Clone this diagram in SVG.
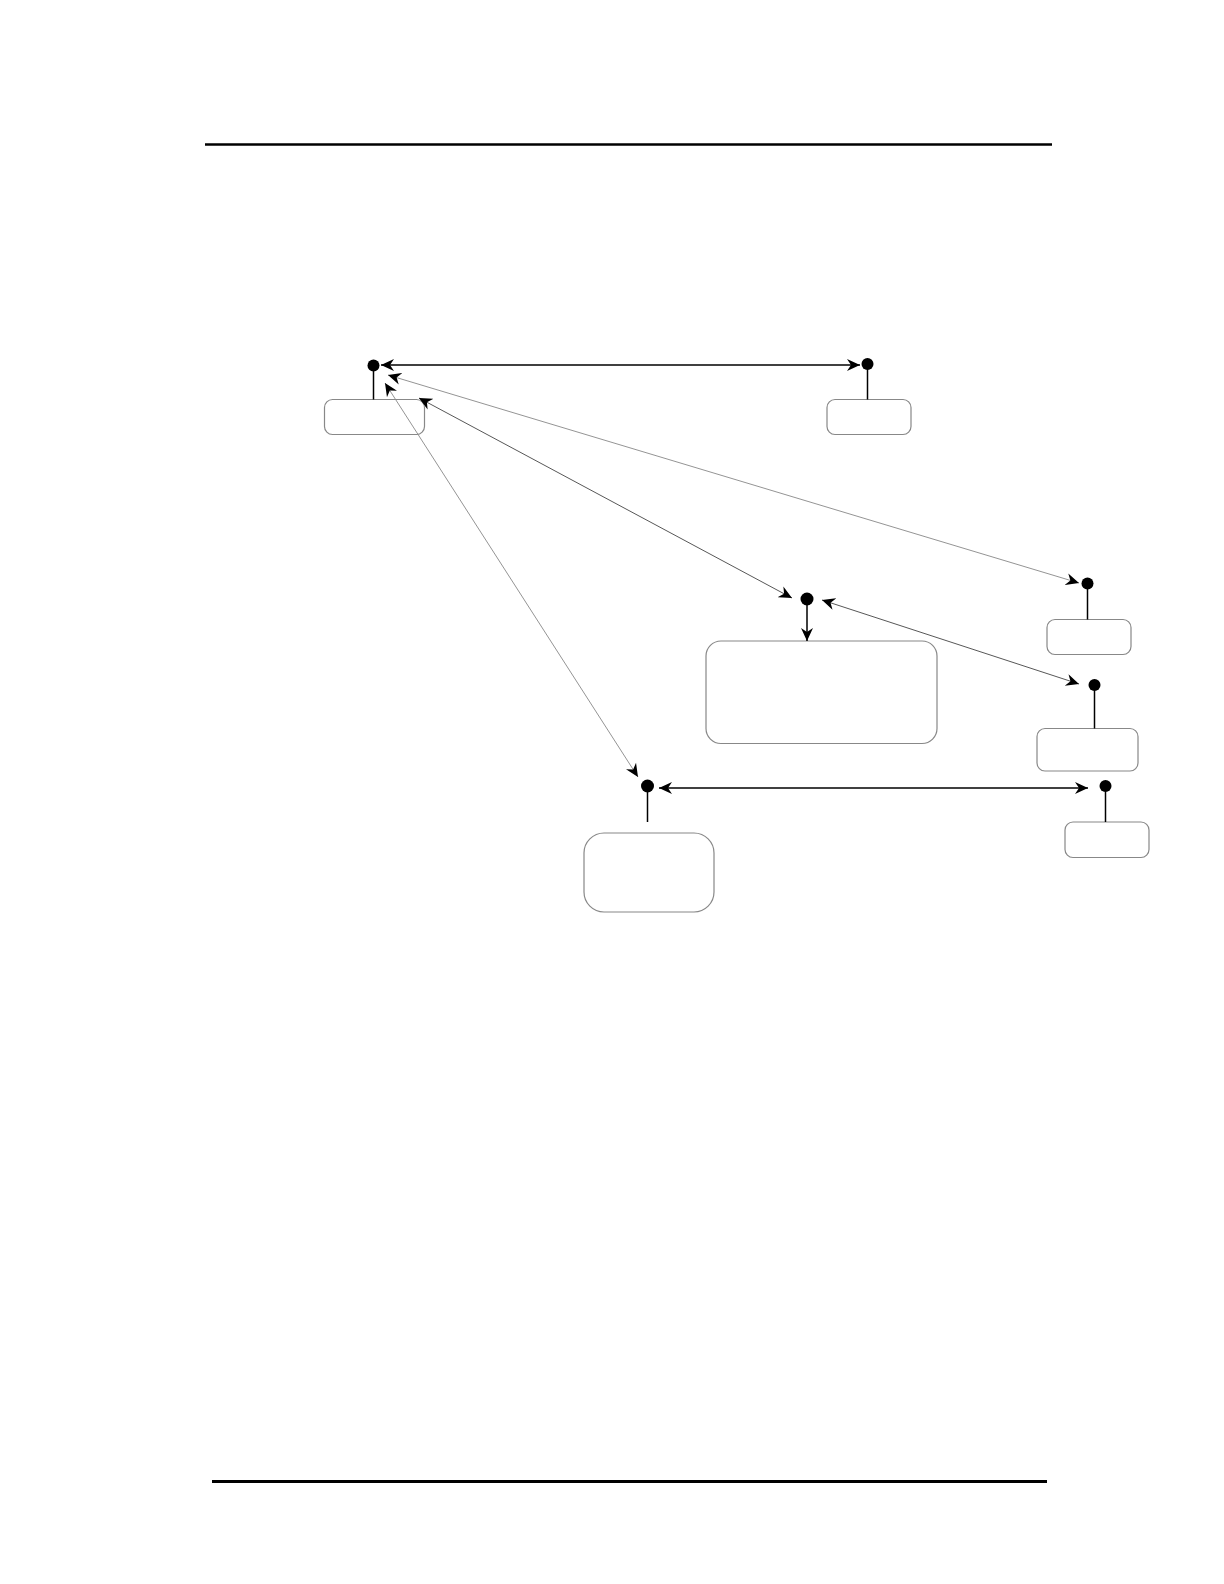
<svg xmlns="http://www.w3.org/2000/svg" width="1224" height="1584" viewBox="0 0 1224 1584">
<style>
.box{fill:none;stroke:#888;stroke-width:1.2}
.dot{fill:#000}
.stem{stroke:#000;stroke-width:1.5}
.bold{stroke:#000;stroke-width:1.5;fill:none}
.thin{stroke:#444;stroke-width:0.9;fill:none}
.grey{stroke:#888;stroke-width:0.9;fill:none}
.rule{stroke:#000;fill:none}
</style>
<defs>
<marker id="ah" markerUnits="userSpaceOnUse" markerWidth="16" markerHeight="14" refX="13" refY="6" orient="auto-start-reverse" viewBox="0 0 16 12">
<path d="M0,0 L13,6 L0,12 L4,6 Z" fill="#000"/>
</marker>
</defs>
<line class="rule" x1="205" y1="144.5" x2="1052" y2="144.5" stroke-width="2.5"/>
<line class="rule" x1="212" y1="1481.5" x2="1047" y2="1481.5" stroke-width="3"/>
<g id="node1">
<rect class="box" x="324.5" y="399.5" width="100" height="35" rx="8"/>
<line class="stem" x1="373.5" y1="366" x2="373.5" y2="399.5"/>
<circle class="dot" cx="373.5" cy="365.5" r="6"/>
</g>
<g id="node2">
<rect class="box" x="827" y="399.5" width="84" height="35" rx="8"/>
<line class="stem" x1="867.5" y1="364" x2="867.5" y2="399.5"/>
<circle class="dot" cx="867.5" cy="364" r="6"/>
</g>
<g id="node3">
<rect class="box" x="706" y="641" width="231" height="102.5" rx="15"/>
<circle class="dot" cx="807" cy="599" r="6.5"/>
</g>
<g id="node4">
<rect class="box" x="1047" y="619.5" width="84" height="35" rx="8"/>
<line class="stem" x1="1087.5" y1="583" x2="1087.5" y2="619.5"/>
<circle class="dot" cx="1087.5" cy="583.5" r="6"/>
</g>
<g id="node5">
<rect class="box" x="1037" y="728.5" width="101" height="42.5" rx="8"/>
<line class="stem" x1="1094.5" y1="685" x2="1094.5" y2="728.5"/>
<circle class="dot" cx="1094.5" cy="685" r="6"/>
</g>
<g id="node6">
<rect class="box" x="1065" y="822" width="84" height="35.5" rx="8"/>
<line class="stem" x1="1105.5" y1="786" x2="1105.5" y2="822"/>
<circle class="dot" cx="1105.5" cy="786" r="6"/>
</g>
<g id="node7">
<rect class="box" x="584" y="833" width="130" height="79" rx="20"/>
<line class="stem" x1="647.5" y1="786" x2="647.5" y2="822"/>
<circle class="dot" cx="647.5" cy="786" r="6.5"/>
</g>
<g id="connectors">
<line class="bold" x1="381" y1="365" x2="860" y2="365" marker-start="url(#ah)" marker-end="url(#ah)"/>
<line class="grey" x1="388" y1="375" x2="1079" y2="583" marker-start="url(#ah)" marker-end="url(#ah)"/>
<line class="thin" x1="419" y1="398" x2="792" y2="598" marker-start="url(#ah)" marker-end="url(#ah)"/>
<line class="grey" x1="385" y1="383" x2="638" y2="777" marker-start="url(#ah)" marker-end="url(#ah)"/>
<line class="thin" x1="822" y1="600" x2="1079" y2="684" marker-start="url(#ah)" marker-end="url(#ah)"/>
<line class="bold" x1="659" y1="788" x2="1088" y2="788" marker-start="url(#ah)" marker-end="url(#ah)"/>
<line class="bold" x1="807" y1="605" x2="807" y2="641" marker-end="url(#ah)"/>
</g>
</svg>
